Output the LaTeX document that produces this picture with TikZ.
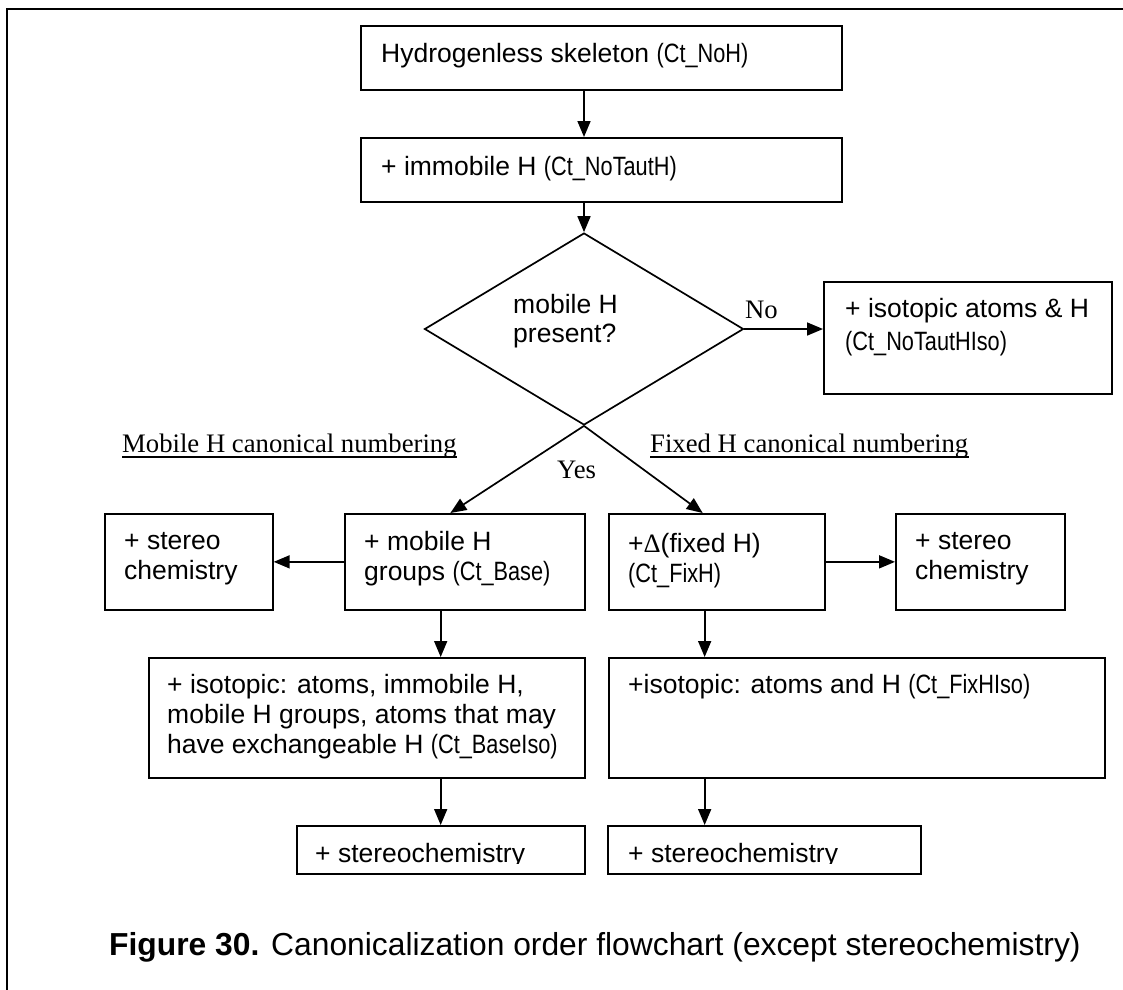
\documentclass[tikz,border=0pt]{standalone}
\usepackage{fontspec}
\setmainfont{Liberation Sans}
\newfontfamily\narrowfont[FakeStretch=0.82]{Liberation Sans}
\newfontfamily\seriffont{Liberation Serif}
\usepackage{tikz}
\usetikzlibrary{arrows.meta,calc,shapes.geometric}

\newcommand{\ct}[1]{{\narrowfont #1}}

\begin{document}
\begin{tikzpicture}[x=1pt, y=-1pt,
  box/.style={draw, line width=1.7pt, inner sep=0pt, anchor=north west},
  txt/.style={anchor=base west, inner sep=0pt, align=left, font=\fontsize{26.5}{30}\selectfont},
  lbl/.style={anchor=base west, inner sep=0pt, font=\seriffont\fontsize{26.7}{30}\selectfont},
  flow/.style={line width=1.7pt, -{Triangle[length=16pt,width=13pt]}}]
\useasboundingbox (0,0) rectangle (1123,989);
% outer frame
\draw[line width=1.8pt] (7,1000) -- (7,9) -- (1130,9);
% main column
\node[box, minimum width=481pt, minimum height=64pt] (skel) at (360,25) {};
\node[box, minimum width=481pt, minimum height=64pt] (immob) at (360,137) {};
\node[draw, diamond, line width=1.7pt, inner sep=0pt, minimum width=319pt, minimum height=192pt] (q) at (584,329) {};
\node[box, minimum width=288pt, minimum height=112pt] (iso) at (823,281) {};
\node[txt] (skelt) at (381,62) {Hydrogenless skeleton \ct{(Ct\_NoH)}};
\node[txt] (immobt) at (381,175) {+ immobile H \ct{(Ct\_NoTautH)}};
% multi-line texts: anchored at the baseline of their last line
\node[txt] (qt) at (513,342) {mobile H\\[-1pt]present?};
\node[txt] (isot) at (845,350) {+ isotopic atoms \& H\\[3pt]\ct{(Ct\_NoTautHIso)}};
\node[lbl] (no) at (745,318) {No};
\node[lbl] (yes) at (557,478) {Yes};
% branch headings
\node[lbl] (mlab) at (122,452) {Mobile H canonical numbering};
\node[lbl] (flab) at (650,452) {Fixed H canonical numbering};
\draw[line width=1.2pt] ($(mlab.base west)+(0,5)$) -- ($(mlab.base east)+(0,5)$);
\draw[line width=1.2pt] ($(flab.base west)+(0,5)$) -- ($(flab.base east)+(0,5)$);
% mobile H side
\node[box, minimum width=168pt, minimum height=96pt] (stl) at (104,513) {};
\node[box, minimum width=240pt, minimum height=96pt] (mob) at (344,513) {};
\node[box, minimum width=436pt, minimum height=120pt] (bi) at (148,657) {};
\node[box, minimum width=288pt, minimum height=48pt] (sbl) at (296,825) {};
\node[txt] (stlt) at (124,579) {+ stereo\\chemistry};
\node[txt] (mobt) at (364,580) {+ mobile H\\groups \ct{(Ct\_Base)}};
\node[txt] (bit) at (167,753) {+ isotopic: atoms, immobile H,\\mobile H groups, atoms that may\\have exchangeable H \ct{(Ct\_BaseIso)}};
% fixed H side
\node[box, minimum width=216pt, minimum height=96pt] (fix) at (608,513) {};
\node[box, minimum width=169pt, minimum height=96pt] (str) at (895,513) {};
\node[box, minimum width=496pt, minimum height=120pt] (fi) at (608,657) {};
\node[box, minimum width=313pt, minimum height=48pt] (sbr) at (607,825) {};
\node[txt] (fixt) at (628,582) {+{\seriffont Δ}(fixed H)\\\ct{(Ct\_FixH)}};
\node[txt] (strt) at (915,579) {+ stereo\\chemistry};
\node[txt] (fit) at (628,693) {+isotopic: atoms and H \ct{(Ct\_FixHIso)}};
\begin{scope}
\clip (296,825) rectangle (920,863);
\node[txt] (sblt) at (315,862) {+ stereochemistry};
\node[txt] (sbrt) at (628,862) {+ stereochemistry};
\end{scope}
% caption
\node[anchor=base west, inner sep=0pt, font=\fontsize{31.8}{36}\selectfont] (cap) at (109,955) {\textbf{Figure 30.} Canonicalization order flowchart (except stereochemistry)};
% connectors
\coordinate (mcol) at ($(mob.south west)!0.4!(mob.south east)$);
\coordinate (fcol) at ($(fix.south west)!0.444!(fix.south east)$);
\draw[flow] (skel.south -| q.north) -- (immob.north -| q.north);
\draw[flow] (immob.south -| q.north) -- (q.north);
\draw[flow] (q.east) -- (q.east -| iso.west);
\draw[flow] (q.south) -- ($(mob.north west)!0.44!(mob.north east)$);
\draw[flow] (q.south) -- ($(fix.north west)!0.435!(fix.north east)$);
\draw[flow] (mob.west) -- (stl.east);
\draw[flow] (fix.east) -- (str.west);
\draw[flow] (mcol) -- (mcol |- bi.north);
\draw[flow] (fcol) -- (fcol |- fi.north);
\draw[flow] (bi.south -| mcol) -- (sbl.north -| mcol);
\draw[flow] (fi.south -| fcol) -- (sbr.north -| fcol);
\end{tikzpicture}
\end{document}
